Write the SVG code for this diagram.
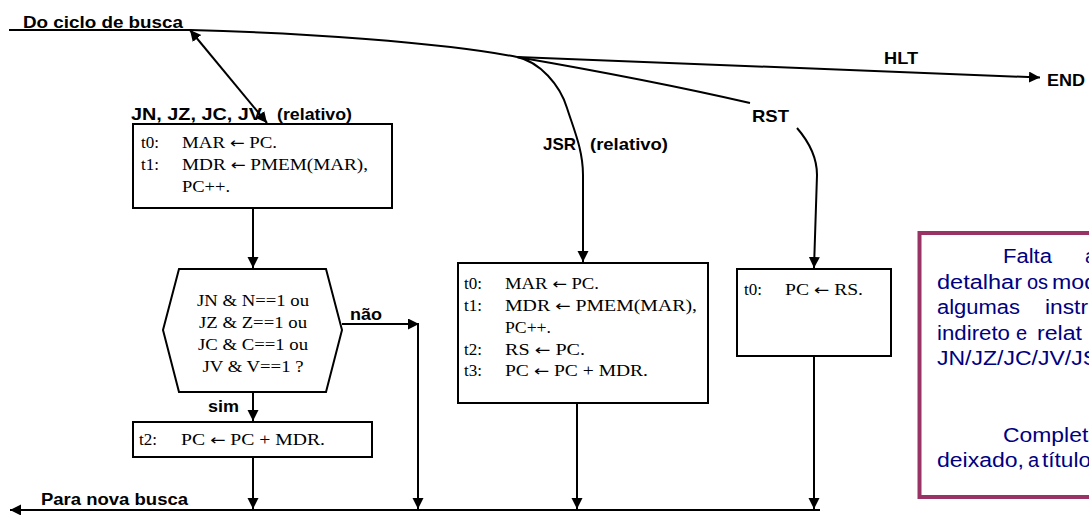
<svg xmlns="http://www.w3.org/2000/svg" width="1089" height="515" viewBox="0 0 1089 515">
  <style>
    .box { fill: #fff; stroke: #000; stroke-width: 2; }
    .wire { fill: none; stroke: #000; stroke-width: 2; }
    .lbl { font-family: "Liberation Sans", Arial, sans-serif; font-weight: bold; font-size: 17px; fill: #000; }
    .code { font-family: "Liberation Serif", "Times New Roman", serif; font-size: 16px; fill: #000; }
    .code .arw { font-family: "DejaVu Sans", sans-serif; font-size: 15px; }
    .note { font-family: "Liberation Sans", Arial, sans-serif; font-size: 20px; fill: #000080; }
  </style>
  <defs>
    <marker id="arrow" markerUnits="userSpaceOnUse" markerWidth="12" markerHeight="12" refX="11" refY="5.5" orient="auto-start-reverse">
      <path d="M0,0 L11,5.5 L0,11 z" fill="#000"/>
    </marker>
  </defs>

  <!-- connectors -->
  <g id="connectors" class="wire">
    <path d="M9,30 L190,30 C300,33 440,42 517,57"/>
    <path d="M190,30 L267,123" marker-start="url(#arrow)" marker-end="url(#arrow)"/>
    <path d="M517,57 C540,62 560,85 567,108 C574,130 583,150 583,175 L583,262" marker-end="url(#arrow)"/>
    <path d="M517,57 L1040,77.5" marker-end="url(#arrow)"/>
    <path d="M517,57 Q650,80 750,103"/>
    <path d="M797,128 C810,143 817,160 817,175 L814,268" marker-end="url(#arrow)"/>
    <path d="M253,209 L253,268" marker-end="url(#arrow)"/>
    <path d="M253,393 L253,421" marker-end="url(#arrow)"/>
    <path d="M342,324 L419,324" marker-end="url(#arrow)"/>
    <path d="M418,324 L418,509" marker-end="url(#arrow)"/>
    <path d="M253,458 L253,509" marker-end="url(#arrow)"/>
    <path d="M577,404 L577,509" marker-end="url(#arrow)"/>
    <path d="M814,357 L814,509" marker-end="url(#arrow)"/>
    <path d="M820,510 L10,510" marker-end="url(#arrow)"/>
  </g>

  <!-- branch labels -->
  <g id="labels" class="lbl">
    <text x="23" y="28" font-size="16" textLength="160" lengthAdjust="spacingAndGlyphs">Do ciclo de busca</text>
    <text x="131" y="120" textLength="131" lengthAdjust="spacingAndGlyphs">JN, JZ, JC, JV</text>
    <text x="277" y="120" textLength="75" lengthAdjust="spacingAndGlyphs">(relativo)</text>
    <text x="543" y="150" textLength="33" lengthAdjust="spacingAndGlyphs">JSR</text>
    <text x="590" y="150" textLength="78" lengthAdjust="spacingAndGlyphs">(relativo)</text>
    <text x="884" y="64" textLength="34" lengthAdjust="spacingAndGlyphs">HLT</text>
    <text x="1047" y="86" textLength="38" lengthAdjust="spacingAndGlyphs">END</text>
    <text x="752" y="122" textLength="37" lengthAdjust="spacingAndGlyphs">RST</text>
    <text x="350" y="320" textLength="32" lengthAdjust="spacingAndGlyphs">não</text>
    <text x="208" y="412" textLength="31" lengthAdjust="spacingAndGlyphs">sim</text>
    <text x="41" y="505" font-size="16" textLength="147" lengthAdjust="spacingAndGlyphs">Para nova busca</text>
  </g>

  <!-- fetch of the relative offset for conditional jumps -->
  <g id="jump-fetch">
    <rect class="box" x="133" y="124" width="259" height="84"/>
    <g class="code">
      <text x="141" y="148" textLength="18" lengthAdjust="spacingAndGlyphs">t0:</text>
      <text x="182" y="148" textLength="95" lengthAdjust="spacingAndGlyphs">MAR <tspan class="arw">←</tspan> PC.</text>
      <text x="141" y="170" textLength="18" lengthAdjust="spacingAndGlyphs">t1:</text>
      <text x="182" y="170" textLength="186" lengthAdjust="spacingAndGlyphs">MDR <tspan class="arw">←</tspan> PMEM(MAR),</text>
      <text x="182" y="191.5" textLength="48" lengthAdjust="spacingAndGlyphs">PC++.</text>
    </g>
  </g>

  <!-- flag test -->
  <g id="flag-test">
    <polygon class="box" points="179,269 326,269 342,330 326,392 179,392 163,330"/>
    <g class="code" text-anchor="middle">
      <text x="253" y="306" textLength="112" lengthAdjust="spacingAndGlyphs">JN &amp; N==1 ou</text>
      <text x="253" y="328" textLength="108" lengthAdjust="spacingAndGlyphs">JZ &amp; Z==1 ou</text>
      <text x="253" y="350" textLength="110" lengthAdjust="spacingAndGlyphs">JC &amp; C==1 ou</text>
      <text x="253" y="372" textLength="101" lengthAdjust="spacingAndGlyphs">JV &amp; V==1 ?</text>
    </g>
  </g>

  <!-- taken jump -->
  <g id="jump-taken">
    <rect class="box" x="133" y="422" width="239" height="35"/>
    <g class="code">
      <text x="139" y="445" textLength="18" lengthAdjust="spacingAndGlyphs">t2:</text>
      <text x="181" y="445" textLength="144" lengthAdjust="spacingAndGlyphs">PC <tspan class="arw">←</tspan> PC + MDR.</text>
    </g>
  </g>

  <!-- JSR -->
  <g id="jsr">
    <rect class="box" x="458" y="263" width="250" height="140"/>
    <g class="code">
      <text x="464" y="289" textLength="18" lengthAdjust="spacingAndGlyphs">t0:</text>
      <text x="505" y="289" textLength="94" lengthAdjust="spacingAndGlyphs">MAR <tspan class="arw">←</tspan> PC.</text>
      <text x="464" y="311" textLength="18" lengthAdjust="spacingAndGlyphs">t1:</text>
      <text x="505" y="311" textLength="192" lengthAdjust="spacingAndGlyphs">MDR <tspan class="arw">←</tspan> PMEM(MAR),</text>
      <text x="505" y="333" textLength="46" lengthAdjust="spacingAndGlyphs">PC++.</text>
      <text x="464" y="354.5" textLength="18" lengthAdjust="spacingAndGlyphs">t2:</text>
      <text x="505" y="354.5" textLength="80" lengthAdjust="spacingAndGlyphs">RS <tspan class="arw">←</tspan> PC.</text>
      <text x="464" y="376" textLength="18" lengthAdjust="spacingAndGlyphs">t3:</text>
      <text x="505" y="376" textLength="143" lengthAdjust="spacingAndGlyphs">PC <tspan class="arw">←</tspan> PC + MDR.</text>
    </g>
  </g>

  <!-- RST -->
  <g id="rst">
    <rect class="box" x="737" y="269" width="154" height="87"/>
    <g class="code">
      <text x="744" y="295" textLength="18" lengthAdjust="spacingAndGlyphs">t0:</text>
      <text x="785" y="295" textLength="78" lengthAdjust="spacingAndGlyphs">PC <tspan class="arw">←</tspan> RS.</text>
    </g>
  </g>

  <!-- side note, justified text running past the right edge -->
  <g id="note">
    <rect x="919.5" y="233" width="200" height="264" fill="#fff" stroke="#993366" stroke-width="4"/>
    <g class="note">
      <text x="1003" y="263" textLength="49" lengthAdjust="spacingAndGlyphs">Falta</text>
      <text x="1085" y="263">a</text>
      <text x="937" y="288.5" textLength="85" lengthAdjust="spacingAndGlyphs">detalhar</text>
      <text x="1027" y="288.5">os</text>
      <text x="1052" y="288.5" textLength="45" lengthAdjust="spacingAndGlyphs">mod</text>
      <text x="937" y="314" textLength="83" lengthAdjust="spacingAndGlyphs">algumas</text>
      <text x="1045" y="314" textLength="43" lengthAdjust="spacingAndGlyphs">instr</text>
      <text x="937" y="339.5" textLength="73" lengthAdjust="spacingAndGlyphs">indireto</text>
      <text x="1016" y="339.5">e</text>
      <text x="1037" y="339.5" textLength="45" lengthAdjust="spacingAndGlyphs">relat</text>
      <text x="937" y="365" textLength="161" lengthAdjust="spacingAndGlyphs">JN/JZ/JC/JV/JS</text>
      <text x="1003" y="442" textLength="98" lengthAdjust="spacingAndGlyphs">Completa</text>
      <text x="937" y="467" textLength="87" lengthAdjust="spacingAndGlyphs">deixado,</text>
      <text x="1028" y="467">a</text>
      <text x="1042" y="467" textLength="49" lengthAdjust="spacingAndGlyphs">título</text>
    </g>
  </g>
</svg>
